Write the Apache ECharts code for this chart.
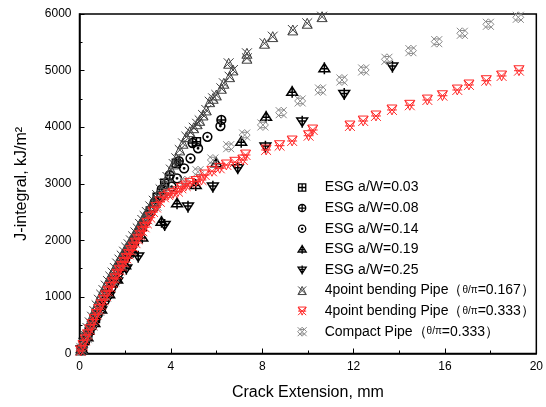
<!DOCTYPE html>
<html><head><meta charset="utf-8">
<script src="https://cdn.jsdelivr.net/npm/echarts@6/dist/echarts.min.js"></script>
<style>html,body{margin:0;padding:0;background:#fff}#c{width:546px;height:407px}</style>
</head><body><div id="c"></div>
<script>
const seriesNames = [
  'ESG a/W=0.03', 'ESG a/W=0.08', 'ESG a/W=0.14', 'ESG a/W=0.19', 'ESG a/W=0.25',
  '4point bending Pipe（θ/π=0.167）', '4point bending Pipe（θ/π=0.333）', 'Compact Pipe（θ/π=0.333）'
];
const xTicks = [0, 4, 8, 12, 16, 20];
const yTicks = [0, 1000, 2000, 3000, 4000, 5000, 6000];

const esg003 = [[0.08,70],[0.25,230],[0.45,410],[0.7,620],[0.95,840],[1.2,1050],[1.5,1290],[1.8,1530],[2.1,1760],[2.4,1990],[2.75,2250],[3.1,2520],[3.4,2760],[3.73,3008],[4.24,3362],[5.12,3744]];
const esg008 = [[0.1,80],[0.3,260],[0.55,480],[0.8,690],[1.1,930],[1.4,1170],[1.7,1420],[2.0,1660],[2.3,1900],[2.65,2180],[3.0,2450],[3.3,2680],[3.6,2900],[3.95,3150],[4.35,3400],[4.95,3720],[6.21,4127]];
const esg014 = [[0.12,90],[0.35,300],[0.6,520],[0.9,770],[1.2,1010],[1.5,1250],[1.85,1520],[2.2,1790],[2.55,2060],[2.9,2330],[3.25,2580],[3.6,2790],[4.03,2948],[4.27,3096],[4.58,3273],[4.86,3450],[5.19,3627],[5.6,3830],[6.17,4020]];
const esg019 = [[0.1,80],[0.35,290],[0.65,540],[0.95,780],[1.3,1050],[1.65,1310],[2.0,1560],[2.35,1800],[2.75,2050],[3.59,2330],[4.27,2655],[5.09,2978],[5.99,3362],[7.08,3744],[8.17,4186],[9.31,4627],[10.72,5041]];
const esg025 = [[0.1,70],[0.35,280],[0.65,530],[0.95,760],[1.3,1020],[1.65,1270],[2.05,1500],[2.57,1711],[3.73,2271],[4.75,2595],[5.84,2948],[6.93,3273],[8.14,3655],[9.75,4097],[11.59,4586],[13.70,5069]];
const pipe0167 = [[0.05,60],[0.15,190],[0.25,320],[0.35,450],[0.45,550],[0.55,650],[0.65,750],[0.75,850],[0.85,950],[0.95,1040],[1.05,1120],[1.15,1200],[1.25,1280],[1.35,1360],[1.45,1430],[1.55,1510],[1.65,1590],[1.75,1660],[1.85,1730],[1.95,1800],[2.05,1870],[2.15,1930],[2.25,2000],[2.35,2070],[2.45,2140],[2.55,2210],[2.65,2290],[2.75,2360],[2.85,2430],[2.95,2500],[3.1,2600],[3.25,2700],[3.4,2800],[3.55,2900],[3.7,3000],[3.85,3120],[4.0,3250],[4.12,3350],[4.24,3450],[4.39,3597],[4.53,3715],[4.68,3832],[4.83,3920],[5.0,3990],[5.15,4060],[5.26,4120],[5.41,4215],[5.55,4304],[5.7,4450],[5.85,4510],[5.99,4569],[6.21,4687],[6.32,4776],[6.57,4892],[6.72,5011],[6.53,5129],[7.33,5218],[7.33,5306],[8.1,5483],[8.46,5600],[9.34,5718],[9.97,5836],[10.62,5953]];
const pipe0333 = [[0.05,45],[0.15,140],[0.25,240],[0.35,330],[0.45,420],[0.55,510],[0.65,600],[0.75,690],[0.85,780],[0.95,860],[1.05,940],[1.15,1020],[1.25,1100],[1.35,1170],[1.45,1250],[1.55,1320],[1.65,1400],[1.75,1470],[1.85,1540],[1.95,1610],[2.05,1680],[2.15,1750],[2.25,1820],[2.35,1880],[2.45,1950],[2.55,2020],[2.65,2090],[2.75,2160],[2.85,2230],[2.95,2300],[3.1,2400],[3.22,2500],[3.35,2580],[3.52,2680],[3.7,2760],[3.88,2801],[4.1,2830],[4.31,2860],[4.46,2920],[4.65,2960],[4.83,3008],[5.1,3040],[5.34,3066],[5.48,3155],[5.8,3220],[6.14,3273],[6.43,3332],[6.8,3380],[7.15,3420],[7.27,3508],[8.17,3597],[8.76,3673],[9.31,3756],[10.03,3849],[10.21,3950],[11.84,4021],[12.42,4109],[12.98,4198],[13.68,4304],[14.46,4387],[15.23,4480],[15.89,4556],[16.54,4657],[17.05,4746],[17.81,4822],[18.48,4905],[19.24,4998]];
const compact0333 = [[0.1,90],[0.3,280],[0.55,500],[0.85,760],[1.15,1010],[1.5,1280],[1.85,1560],[2.2,1830],[2.55,2100],[2.95,2380],[3.35,2620],[3.8,2850],[4.61,3037],[5.19,3213],[5.84,3420],[6.53,3655],[7.23,3861],[8.03,4039],[8.83,4256],[9.66,4463],[10.55,4657],[11.49,4834],[12.44,5011],[13.46,5200],[14.51,5352],[15.64,5511],[16.76,5659],[17.9,5818],[19.21,5942]];

const SYM = {
  sqPlus: 'path://M1,1 L9,1 L9,9 L1,9 Z M5,1 L5,9 M1,5 L9,5 M0,0 M10,10',
  cirPlus: 'path://M1,5 A4,4 0 1,1 9,5 A4,4 0 1,1 1,5 Z M5,1 L5,9 M1,5 L9,5 M0,0 M10,10',
  cirDot: 'path://M1,5 A4,4 0 1,1 9,5 A4,4 0 1,1 1,5 Z M4.4,5 A0.6,0.6 0 1,1 5.6,5 A0.6,0.6 0 1,1 4.4,5 Z M0,0 M10,10',
  triUpPlus: 'path://M5,1 L9.5,8 L0.5,8 Z M5,0 L5,10 M1.5,5.5 L8.5,5.5',
  triDnPlus: 'path://M0.5,2 L9.5,2 L5,9 Z M5,0 L5,10 M1.5,4.5 L8.5,4.5',
  triUpX: 'path://M5,0.5 L9.5,9.5 L0.5,9.5 Z M0.5,0.5 L9.5,9.5 M9.5,0.5 L0.5,9.5 M0,0 M10,10',
  triDnX: 'path://M0.5,0.5 L9.5,0.5 L5,9.5 Z M0.5,0.5 L9.5,9.5 M9.5,0.5 L0.5,9.5 M0.5,5 L9.5,5 M0,0 M10,10',
  diaX: 'path://M5,0 L10,5 L5,10 L0,5 Z M0,0 L10,10 M10,0 L0,10 M2.5,2.5 L7.5,2.5 M2.5,7.5 L7.5,7.5'
};

const FONT = 'Liberation Sans';
const defs = [
  {name: seriesNames[0], data: esg003, sym: SYM.sqPlus, color: '#000', lw: 1.5, size: 10},
  {name: seriesNames[1], data: esg008, sym: SYM.cirPlus, color: '#000', lw: 1.5, size: 11},
  {name: seriesNames[2], data: esg014, sym: SYM.cirDot, color: '#000', lw: 1.5, size: 11},
  {name: seriesNames[3], data: esg019, sym: SYM.triUpPlus, color: '#000', lw: 1.5, size: 12},
  {name: seriesNames[4], data: esg025, sym: SYM.triDnPlus, color: '#000', lw: 1.5, size: 12},
  {name: seriesNames[7], data: compact0333, sym: SYM.diaX, color: '#8a8a8a', lw: 1, size: 11},
  {name: seriesNames[5], data: pipe0167, sym: SYM.triUpX, color: '#404040', lw: 1, size: 11},
  {name: seriesNames[6], data: pipe0333, sym: SYM.triDnX, color: '#ff2a2a', lw: 1, size: 11}
];

const series = defs.map(d => ({
  name: d.name, type: 'scatter', data: d.data, symbol: d.sym, symbolSize: d.size,
  symbolKeepAspect: true, silent: true,
  itemStyle: {color: 'rgba(0,0,0,0)', borderColor: d.color, borderWidth: d.lw, opacity: 1}
}));

const legendData = seriesNames.map(n => {
  const d = defs.find(v => v.name === n);
  return {name: n, icon: d.sym, itemStyle: {color: 'rgba(0,0,0,0)', borderColor: d.color, borderWidth: Math.min(d.lw, 1.3)}};
});

const axisCommon = {
  type: 'value',
  axisLine: {show: true, lineStyle: {color: '#000', width: 1.5}},
  axisTick: {show: true, inside: true, length: 5, lineStyle: {color: '#000', width: 1}},
  minorTick: {show: true, splitNumber: 2, length: 3, lineStyle: {color: '#000', width: 1}},
  splitLine: {show: false},
  axisLabel: {color: '#000', fontSize: 12, fontFamily: FONT, formatter: v => String(v)},
  nameLocation: 'middle',
  nameTextStyle: {color: '#000', fontSize: 16, fontFamily: FONT}
};

const chart = echarts.init(document.getElementById('c'), null, {renderer: 'canvas'});
chart.setOption({
  animation: false,
  backgroundColor: '#fff',
  grid: {left: 79.5, right: 8.5, top: 14, bottom: 53.5, show: true, borderColor: '#000', borderWidth: 1.5, backgroundColor: 'transparent'},
  xAxis: Object.assign({}, axisCommon, {
    min: xTicks[0], max: xTicks[xTicks.length - 1], interval: xTicks[1] - xTicks[0],
    name: 'Crack Extension, mm', nameGap: 31,
    axisLabel: Object.assign({}, axisCommon.axisLabel, {margin: 7})
  }),
  yAxis: Object.assign({}, axisCommon, {
    min: yTicks[0], max: yTicks[yTicks.length - 1], interval: yTicks[1] - yTicks[0],
    name: 'J-integral, kJ/m²', nameGap: 50,
    axisLabel: Object.assign({}, axisCommon.axisLabel, {margin: 8})
  }),
  legend: {
    orient: 'vertical', left: 292, top: 175.5,
    itemWidth: 35, itemHeight: 9, itemGap: 6.6,
    data: legendData,
    selectedMode: false,
    textStyle: {color: '#000', fontSize: 14, fontFamily: FONT, rich: {
      n: {fontSize: 14, fontFamily: FONT, color: '#000'},
      s: {fontSize: 10, fontFamily: FONT, color: '#000'}
    }},
    formatter: n => {
      const i = n.indexOf('θ/π');
      if (i < 0) return '{n|' + n + '}';
      return '{n|' + n.slice(0, i) + '}{s|θ/π}{n|' + n.slice(i + 3) + '}';
    }
  },
  series: series
});
</script>
</body></html>
